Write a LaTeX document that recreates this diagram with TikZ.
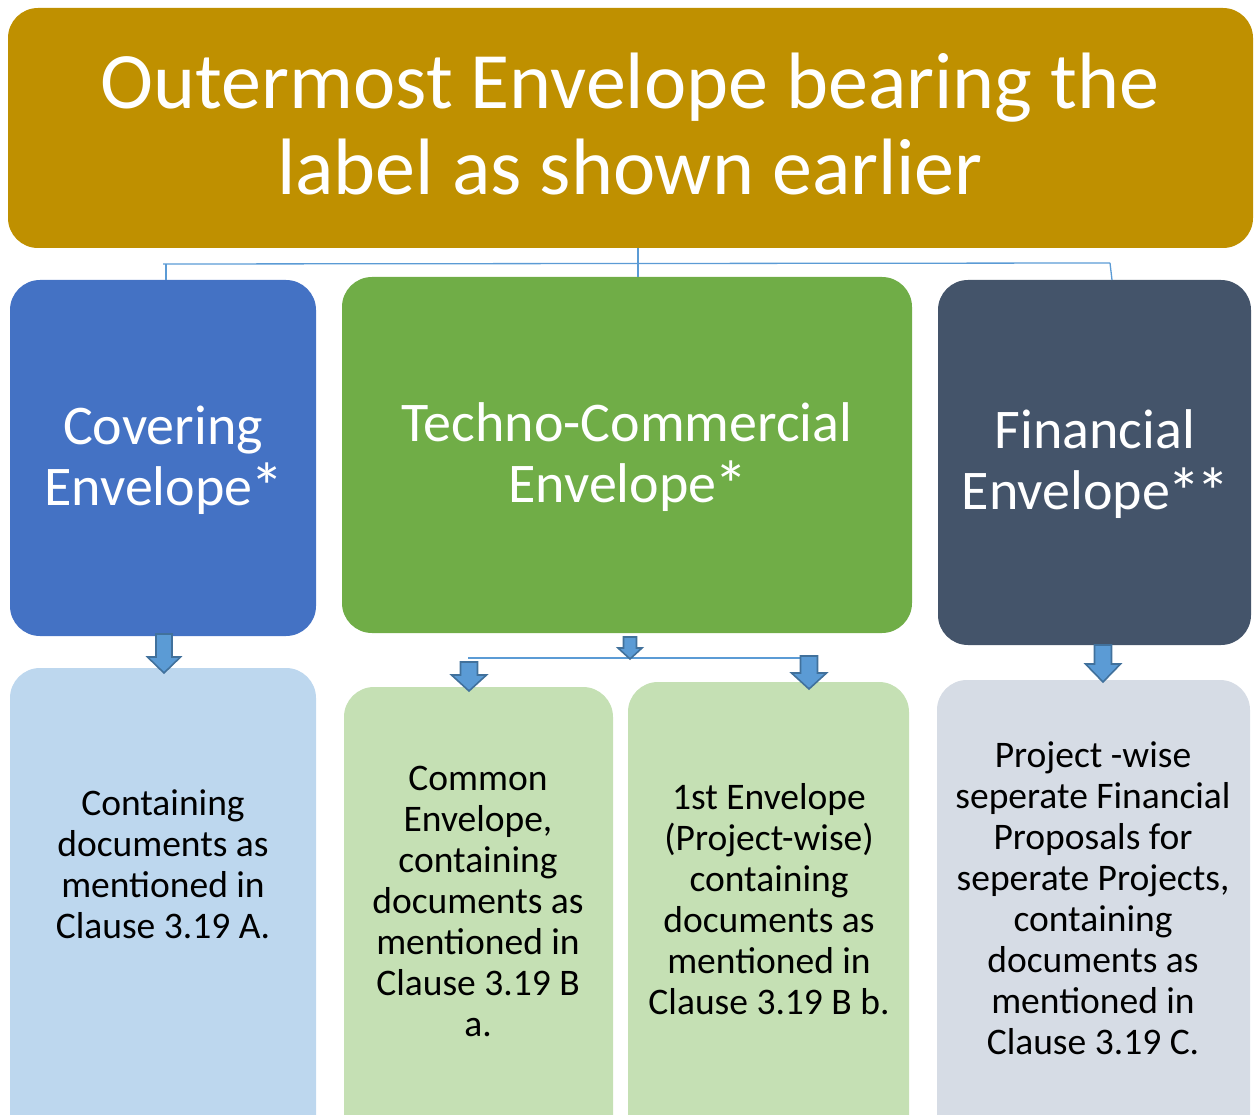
\documentclass[tikz,border=0pt]{standalone}
\usepackage{fontspec}
\setmainfont{Carlito}
\definecolor{cgold}{HTML}{BF9000}
\definecolor{cblue}{HTML}{4472C4}
\definecolor{cgreen}{HTML}{70AD47}
\definecolor{cslate}{HTML}{44546A}
\definecolor{lblue}{HTML}{BDD7EE}
\definecolor{lgreen}{HTML}{C5E0B4}
\definecolor{lslate}{HTML}{D6DCE5}
\definecolor{cline}{HTML}{5B9BD5}
\definecolor{cedge}{HTML}{41719C}
\newcommand{\blkarrow}[6]{%
  \draw[arrowbox] (#1-#5,#2) -- (#1+#5,#2) -- (#1+#5,#3) -- (#1+#6,#3) -- (#1,#4) -- (#1-#6,#3) -- (#1-#5,#3) -- cycle;}
\newcommand{\bigast}{\kern-0.04em\raisebox{-0.1em}{\scalebox{1.2}{*}}\kern-0.04em}
\tikzset{
  rbox/.style={rounded corners=30pt},
  arrowbox/.style={fill=cline,draw=cedge,line width=1.6pt,line join=miter},
  conn/.style={draw=cline,line width=1.3pt},
  ttext/.style={text=white,align=center,font=\fontsize{80}{86}\selectfont},
  mtext/.style={text=white,align=center,font=\fontsize{56}{61}\selectfont},
  btext/.style={text=black,align=center,font=\fontsize{37.5}{41}\selectfont},
}
\begin{document}
\begin{tikzpicture}[x=1pt,y=-1pt]
\useasboundingbox (0,0) rectangle (1259,1115);
\clip (0,0) rectangle (1259,1115);
% boxes
\fill[cgold,rbox] (8,8) rectangle (1253,248);
\fill[cblue,rbox] (10,280) rectangle (316,636);
\fill[cgreen,rbox] (342,277) rectangle (912,633);
\fill[cslate,rbox] (938,280) rectangle (1251,645);
\fill[lblue,rbox] (10,668) rectangle (316,1160);
\fill[lgreen,rbox] (344,687) rectangle (613,1160);
\fill[lgreen,rbox] (628,682) rectangle (909,1160);
\fill[lslate,rbox] (937,680) rectangle (1250,1160);
% texts
\node[ttext] (top) at (630,124) {Outermost Envelope bearing the\\label as shown earlier};
\node[mtext] (cov) at (163,460) {Covering\\Envelope\bigast};
\node[mtext] (tec) at (627,457) {Techno-Commercial\\Envelope\bigast};
\node[mtext] (fin) at (1095,464) {Financial\\Envelope\bigast\bigast};
\node[btext] (b1) at (163,864) {Containing\\documents as\\mentioned in\\Clause 3.19 A.};
\node[btext] (b2) at (478,901) {Common\\Envelope,\\containing\\documents as\\mentioned in\\Clause 3.19 B\\a.};
\node[btext] (b3) at (769,899) {1st Envelope\\(Project-wise)\\containing\\documents as\\mentioned in\\Clause 3.19 B b.};
\node[btext] (b4) at (1093,898) {Project -wise\\seperate Financial\\Proposals for\\seperate Projects,\\containing\\documents as\\mentioned in\\Clause 3.19 C.};
% top connectors
\coordinate (j0) at (638,248);
\coordinate (j1) at (638,277);
\coordinate (hl) at (163,264);
\coordinate (hr) at (1110,263);
\coordinate (cl) at (166,280);
\coordinate (cr) at (1112,280);
\draw[conn] (j0) -- (j1);
\draw[conn] (hl) -- (hr);
\draw[conn] (166,264) -- (cl);
\draw[conn] (hr) -- (cr);
% techno split line
\coordinate (sl) at (468,658);
\coordinate (sr) at (802,658);
\draw[conn] (sl) -- (sr);
% block arrows
\blkarrow{164}{634}{657}{673}{8}{16.5}
\blkarrow{630}{637}{648}{659}{6.5}{12}
\blkarrow{469}{662}{675}{691}{8.5}{17.5}
\blkarrow{809}{656}{673}{689}{8.5}{17.5}
\blkarrow{1103}{645}{664}{682}{8.5}{17.5}
\end{tikzpicture}
\end{document}
